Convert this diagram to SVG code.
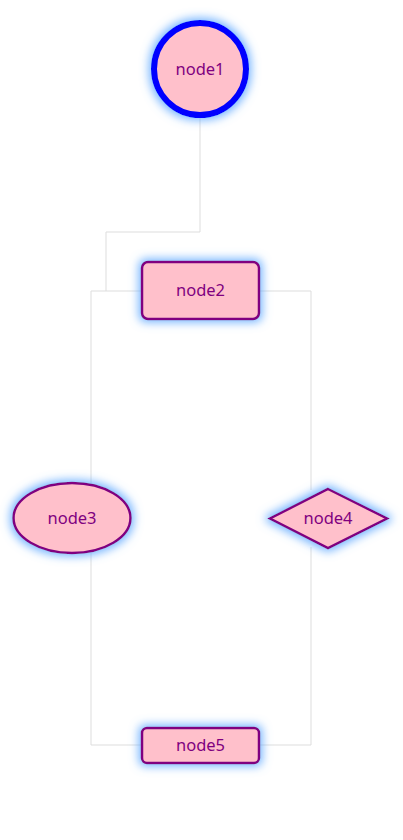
<svg xmlns="http://www.w3.org/2000/svg" width="403" height="840" viewBox="0 0 403 840">
<defs>
<filter id="glow" x="-50%" y="-50%" width="200%" height="200%">
<feMorphology in="SourceAlpha" operator="dilate" radius="1.5" result="d"/>
<feGaussianBlur in="d" stdDeviation="5" result="b"/>
<feFlood flood-color="#5aa6ff" flood-opacity="0.85"/>
<feComposite in2="b" operator="in" result="g"/>
<feMerge><feMergeNode in="g"/><feMergeNode in="SourceGraphic"/></feMerge>
</filter>
</defs>
<style>
.shape{fill:#ffc0cb;stroke:#800080;stroke-width:2.5;filter:url(#glow)}
.lbl{font-family:"Noto Sans","Open Sans",sans-serif;font-size:16.5px;fill:#800080;text-anchor:middle;dominant-baseline:central}
.edge{fill:none;stroke:#dddddd;stroke-width:1}
</style>
<rect width="403" height="840" fill="#ffffff"/>
<g id="connectors">
<polyline class="edge" points="200,118 200,232 106,232 106,291"/>
<polyline class="edge" points="142,291 91,291 91,484"/>
<polyline class="edge" points="259,291 311,291 311,490"/>
<polyline class="edge" points="91,553 91,745 142,745"/>
<polyline class="edge" points="311,547 311,745 259,745"/>
</g>
<g id="node1">
<circle class="shape" cx="200" cy="69" r="46" style="stroke:#0000ff;stroke-width:6"/>
<text class="lbl" x="200" y="68">node1</text>
</g>
<g id="node2">
<rect class="shape" x="142" y="262" width="117" height="57" rx="6"/>
<text class="lbl" x="200.5" y="289">node2</text>
</g>
<g id="node3">
<ellipse class="shape" cx="72" cy="518" rx="58.5" ry="35"/>
<text class="lbl" x="72" y="517">node3</text>
</g>
<g id="node4">
<polygon class="shape" points="328,489 387,518.5 328,548 270,518.5"/>
<text class="lbl" x="328" y="517">node4</text>
</g>
<g id="node5">
<rect class="shape" x="142" y="728" width="117" height="35" rx="5"/>
<text class="lbl" x="200.5" y="744">node5</text>
</g>
</svg>
